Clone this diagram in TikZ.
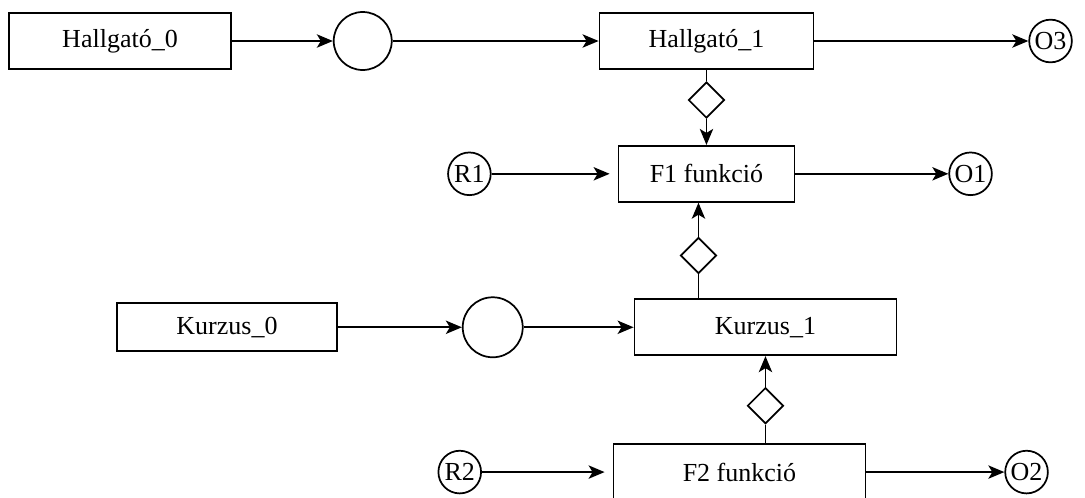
\documentclass[tikz,border=0pt]{standalone}
\usepackage{fontspec}
\setmainfont{Liberation Serif}
\newfontfamily\labelfont{Liberation Serif}
\usepackage{tikz}
\usetikzlibrary{arrows.meta,positioning,shapes.geometric}
\tikzset{
  box/.style={draw, line width=1.3pt, minimum height=42pt, inner sep=2pt, font=\labelfont\fontsize{19.5}{23}\selectfont},
  ring/.style={draw, circle, line width=1.3pt, inner sep=0pt, minimum size=32pt, font=\labelfont\fontsize{19.5}{23}\selectfont},
  gate/.style={draw, diamond, aspect=1, line width=1.3pt, inner sep=0pt, minimum size=27pt},
  arrow/.style={-{Stealth[length=12pt,width=10pt,inset=3pt]}, line width=1.3pt},
  link/.style={line width=1.3pt}
}
\begin{document}
\begin{tikzpicture}[node distance=20pt and 80pt]
  \useasboundingbox (0,0) rectangle (813.75pt,-372.75pt);
  \node[box, minimum width=166.5pt] (h0) at (90pt,-30.75pt) {Hallgató\_0};
  \node[ring, minimum size=43.5pt, right=75.75pt of h0] (c1) {};
  \node[box, minimum width=160.5pt, right=154.5pt of c1] (h1) {Hallgató\_1};
  \node[ring, right=160.5pt of h1] (o3) {O3};
  \node[gate, below=8.5pt of h1] (d1) {};
  \node[box, minimum width=132pt, below=19.5pt of d1] (f1) {F1 funkció};
  \node[ring, left=94.5pt of f1] (r1) {R1};
  \node[ring, right=114.75pt of f1] (o1) {O1};
  \node[gate, below=25.5pt of f1, xshift=-6pt] (d2) {};
  \node[box, minimum width=196.5pt, below=18pt of d2, xshift=50.25pt] (k1) {Kurzus\_1};
  \node[ring, minimum size=45pt, left=82.5pt of k1] (c2) {};
  \node[box, minimum width=165pt, minimum height=36pt, left=93pt of c2] (k0) {Kurzus\_0};
  \node[gate, below=23pt of k1] (d3) {};
  \node[box, minimum width=189pt, below=14pt of d3, xshift=-19.5pt] (f2) {F2 funkció};
  \node[ring, left=98pt of f2] (r2) {R2};
  \node[ring, right=103.5pt of f2] (o2) {O2};

  \draw[arrow] (h0) -- (c1);
  \draw[arrow] (c1) -- (h1);
  \draw[arrow] (h1) -- (o3);
  \draw[link] (h1.south -| d1) -- (d1.north);
  \draw[arrow] (d1.south) -- (d1.south |- f1.north);
  \draw[arrow, shorten >=6pt] (r1) -- (r1 -| f1.west);
  \draw[arrow] (f1) -- (o1);
  \draw[link] (k1.north -| d2) -- (d2.south);
  \draw[arrow] (d2.north) -- (d2.north |- f1.south);
  \draw[arrow] (k0) -- (c2);
  \draw[arrow] (c2) -- (k1);
  \draw[link] (f2.north -| d3) -- (d3.south);
  \draw[arrow] (d3.north) -- (d3.north |- k1.south);
  \draw[arrow, shorten >=6pt] (r2) -- (r2 -| f2.west);
  \draw[arrow] (f2) -- (o2);
\end{tikzpicture}
\end{document}
